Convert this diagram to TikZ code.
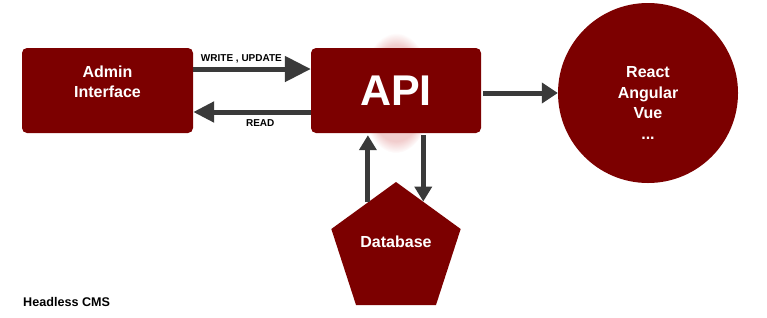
\documentclass[tikz,border=0pt]{standalone}
\usepackage{fontspec}
\setmainfont{Liberation Sans}
\usetikzlibrary{arrows.meta,shapes.geometric,calc,fadings}
\definecolor{maroon}{RGB}{124,0,0}
\definecolor{arrgray}{RGB}{58,58,58}
\definecolor{glow}{RGB}{210,90,90}
\begin{document}
\begin{tikzpicture}[x=1pt,y=-1pt,
  box/.style={fill=maroon,rounded corners=5pt,inner sep=0pt,text=white,font=\bfseries\fontsize{16}{20}\selectfont,align=center},
  wtext/.style={text=white,font=\bfseries\fontsize{16}{20}\selectfont,align=center,inner sep=0pt},
  arr/.style={draw=arrgray,line width=5pt},
  lbl/.style={inner sep=0pt,font=\bfseries\fontsize{10}{12}\selectfont,text=black}]
\useasboundingbox (0,0) rectangle (767,317);
% glow behind API
\fill[glow,opacity=0.3,path fading=circle with fuzzy edge 20 percent] (396,93) ellipse [x radius=36,y radius=60];
\node[box,minimum width=171pt,minimum height=85pt] (admin) at (107.5,90.5) {};
\node[wtext] (admintext) at (107.5,82) {Admin\\Interface};
\node[box,minimum width=170pt,minimum height=85pt,font=\bfseries\fontsize{43}{48}\selectfont] (api) at (396,90.5) {API};
\node[circle,fill=maroon,minimum size=180pt,inner sep=0pt] (fe) at (648,93) {};
\node[wtext,font=\bfseries\fontsize{16}{20.5}\selectfont] (fetext) at (648,103) {React\\Angular\\Vue\\...};
\node[regular polygon,regular polygon sides=5,fill=maroon,minimum size=136pt,inner sep=0pt] (db) at (396,250) {};
\node[wtext] (dbtext) at (396,242) {Database};
\node[font=\bfseries\fontsize{12.6}{15}\selectfont,inner sep=0pt,anchor=west] (title) at (23,302) {Headless CMS};
% arrows
\draw[arr,-{Triangle[length=26pt,width=25pt]}] ([yshift=21.5pt]admin.east) -- ([yshift=21.5pt]api.west)
  node[lbl,pos=0.41,above=3pt] (wl) {WRITE , UPDATE};
\draw[arr,-{Triangle[length=21pt,width=20pt]}] ([yshift=-21.5pt]api.west) -- ([yshift=-21.5pt]admin.east)
  node[lbl,pos=0.43,below=5pt] (rl) {READ};
\draw[arr,-{Triangle[length=16pt,width=20pt]}] ([xshift=2pt]api.east |- fe.west) -- (fe.west);
\coordinate (p1) at ($(db.corner 1)!0.433!(db.corner 2)$);
\coordinate (p2) at ($(db.corner 1)!0.42!(db.corner 5)$);
\draw[arr,-{Triangle[length=15pt,width=17pt]}] (p1) -- ([yshift=-2pt]p1 |- api.south);
\draw[arr,-{Triangle[length=15pt,width=17pt]}] ([yshift=-2pt]p2 |- api.south) -- (p2);
\end{tikzpicture}
\end{document}
